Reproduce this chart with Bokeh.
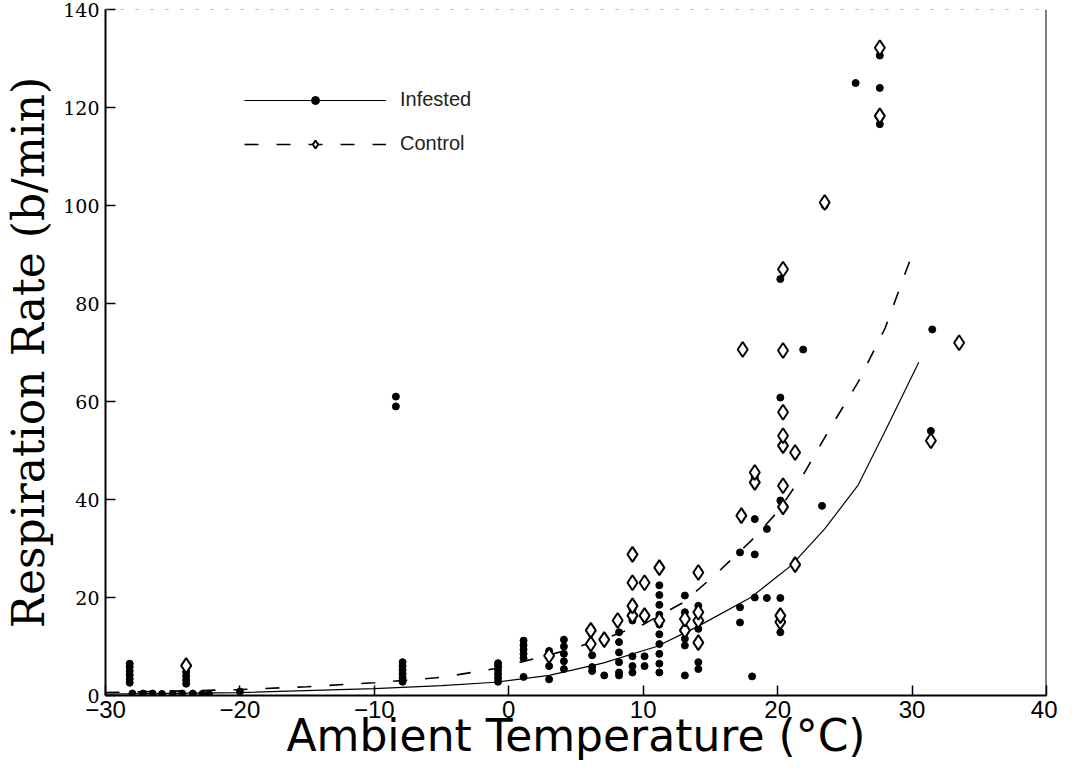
from bokeh.plotting import figure
from bokeh.models import Range1d, Span, Legend, LegendItem
from bokeh.embed import file_html
from bokeh.resources import INLINE

# ---------------- data ----------------
x_ticks = [-30, -20, -10, 0, 10, 20, 30, 40]
y_ticks = [0, 20, 40, 60, 80, 100, 120, 140]

infested_t = [
    -28.2, -28.2, -28.2, -28.2, -28.2, -28.2,
    -28.0, -27.2, -26.5, -25.8, -25.0, -24.3, -23.5, -22.8, -22.3, -20.0,
    -24.0, -24.0, -24.0, -24.0,
    -7.9, -7.9, -7.9, -7.9, -7.9, -7.9,
    -8.4, -8.4,
    -0.8, -0.8, -0.8, -0.8, -0.8, -0.8,
    1.1, 1.1, 1.1, 1.1, 1.1, 1.1,
    3.0, 3.0, 3.0,
    4.1, 4.1, 4.1, 4.1, 4.1,
    6.2, 6.2, 6.2,
    7.1,
    8.2, 8.2, 8.2, 8.2, 8.2, 8.2,
    9.2, 9.2, 9.2, 9.2, 9.2,
    10.1, 10.1,
    11.2, 11.2, 11.2, 11.2, 11.2, 11.2, 11.2, 11.2, 11.2, 11.2,
    13.1, 13.1, 13.1, 13.1, 13.1,
    14.1, 14.1, 14.1, 14.1,
    17.2, 17.2, 17.2,
    18.1,
    18.3, 18.3, 18.3, 18.3,
    19.2, 19.2,
    20.2, 20.2, 20.2, 20.2, 20.2,
    21.9,
    23.3,
    23.5,
    25.8,
    27.6, 27.6, 27.6,
    31.4, 31.5,
]
infested_v = [
    2.6, 3.4, 4.2, 5.0, 5.8, 6.5,
    0.4, 0.4, 0.4, 0.3, 0.3, 0.4, 0.4, 0.3, 0.3, 0.8,
    2.4, 3.2, 4.0, 4.8,
    2.8, 3.6, 4.4, 5.2, 6.0, 6.8,
    59.0, 61.0,
    2.8, 3.6, 4.4, 5.2, 6.0, 6.6,
    3.8, 7.6, 8.5, 9.4, 10.3, 11.2,
    3.3, 6.0, 9.1,
    5.4, 7.0, 8.5, 10.0, 11.4,
    5.0, 5.8, 8.2,
    4.1,
    4.1, 4.7, 6.8, 8.8, 10.9, 12.9,
    4.7, 6.0, 8.0, 15.3, 17.5,
    6.0, 8.0,
    4.7, 6.5, 8.5, 10.5, 12.5, 14.5, 16.5, 18.5, 20.5, 22.5,
    4.1, 10.2, 11.6, 17.0, 20.4,
    5.4, 6.8, 13.6, 18.3,
    14.9, 18.0, 29.2,
    3.9,
    20.0, 28.8, 36.0, 44.5,
    19.9, 34.0,
    12.9, 19.9, 39.8, 60.8, 85.0,
    70.6,
    38.7,
    100.0,
    125.0,
    116.6, 124.0, 130.6,
    54.0, 74.7,
]

control_t = [
    -24.0, 3.0, 6.1, 6.1, 7.1, 8.1,
    9.2, 9.2, 9.2, 9.2,
    10.1, 10.1,
    11.2, 11.2,
    13.1, 13.1,
    14.1, 14.1, 14.1, 14.1,
    17.3, 17.4,
    18.3, 18.3,
    20.2, 20.2,
    20.4, 20.4, 20.4, 20.4, 20.4, 20.4, 20.4,
    21.3, 21.3,
    23.5,
    27.6, 27.6,
    31.4, 33.5,
]
control_v = [
    6.1, 8.1, 10.5, 13.3, 11.4, 15.3,
    16.3, 18.3, 23.0, 28.8,
    16.3, 23.0,
    15.3, 26.1,
    13.3, 15.6,
    10.8, 15.3, 17.0, 25.1,
    36.7, 70.6,
    43.5, 45.5,
    15.0, 16.3,
    38.5, 42.8, 51.0, 53.0, 57.8, 70.4, 87.0,
    26.7, 49.6,
    100.6,
    118.3, 132.2,
    52.0, 72.0,
]

# fitted curves, points
infested_fit_t = [-30, -20, -10, -5, -1, 3, 7, 11, 14, 18, 21, 23.5, 26, 28, 30.5]
infested_fit_v = [0.3, 0.6, 1.4, 2.0, 2.7, 4.1, 6.6, 10.0, 14.0, 20.0, 26.5, 34.0, 43.0, 54.0, 68.0]

control_fit_t = [-30, -25, -20, -15, -10, -5, -1, 4, 7, 10, 13, 15.5, 18, 20, 22, 24, 26, 28, 30]
control_fit_v = [0.6, 0.9, 1.2, 1.8, 2.6, 3.7, 5.5, 9.0, 11.5, 14.5, 19.0, 25.0, 31.5, 37.5, 45.5, 55.0, 64.0, 75.0, 90.0]

# ---------------- figure ----------------
p = figure(width=1057, height=768,
           x_range=Range1d(-30, 40), y_range=Range1d(0, 140),
           output_backend="svg", toolbar_location=None,
           min_border_left=101, min_border_right=11,
           min_border_top=9, min_border_bottom=73)
p.outline_line_color = None
p.background_fill_color = "white"
p.border_fill_color = "white"
p.grid.visible = False

solid_r = p.line(infested_fit_t, infested_fit_v, line_color="black", line_width=1.2)
dash_r = p.line(control_fit_t, control_fit_v, line_color="black", line_width=1.6,
                line_dash="14 18")

inf_r = p.scatter(infested_t, infested_v, marker="circle", size=7,
                  fill_color="black", line_color="black", line_width=1)
ctl_r = p.scatter(control_t, control_v, marker="diamond", size=15,
                  fill_color="white", line_color="black", line_width=2)

# frame: right solid edge, faint dotted top edge
p.add_layout(Span(location=40, dimension="height", line_color="black", line_width=2))
p.add_layout(Span(location=140, dimension="width", line_color="#666666",
                  line_width=1.2, line_dash="3 12"))

# axes
p.xaxis.ticker = x_ticks
p.yaxis.ticker = y_ticks
for ax in (p.xaxis, p.yaxis):
    ax.axis_line_width = 2
    ax.axis_line_color = "black"
    ax.major_tick_in = 10
    ax.major_tick_out = 0
    ax.major_tick_line_width = 1.5
    ax.major_tick_line_color = "black"
    ax.minor_tick_line_color = None
    ax.major_label_text_color = "black"

p.xaxis.major_label_text_font = "Liberation Sans"
p.xaxis.major_label_text_font_size = "24px"
p.xaxis.major_label_standoff = 5
p.xaxis.axis_label = "Ambient Temperature (°C)"
p.xaxis.axis_label_text_font = "DejaVu Sans"
p.xaxis.axis_label_text_font_size = "44px"
p.xaxis.axis_label_text_font_style = "normal"
p.xaxis.axis_label_text_color = "black"
p.xaxis.axis_label_standoff = -11

p.yaxis.major_label_text_font = "DejaVu Serif"
p.yaxis.major_label_text_font_size = "19px"
p.yaxis.major_label_standoff = 6
p.yaxis.axis_label = "Respiration Rate (b/min)"
p.yaxis.axis_label_text_font = "DejaVu Serif"
p.yaxis.axis_label_text_font_size = "44px"
p.yaxis.axis_label_text_font_style = "normal"
p.yaxis.axis_label_text_color = "black"
p.yaxis.axis_label_standoff = 6

legend = Legend(items=[LegendItem(label="Infested", renderers=[solid_r, inf_r]),
                       LegendItem(label="Control", renderers=[dash_r, ctl_r])],
                location=(139, 540), glyph_width=142, glyph_height=20,
                spacing=21, padding=0, margin=0,
                border_line_color=None, background_fill_alpha=0,
                label_text_font="Liberation Sans", label_text_font_size="20px",
                label_text_color="#222222", label_standoff=14)
p.add_layout(legend)

open("out.html", "w").write(file_html(p, INLINE))
